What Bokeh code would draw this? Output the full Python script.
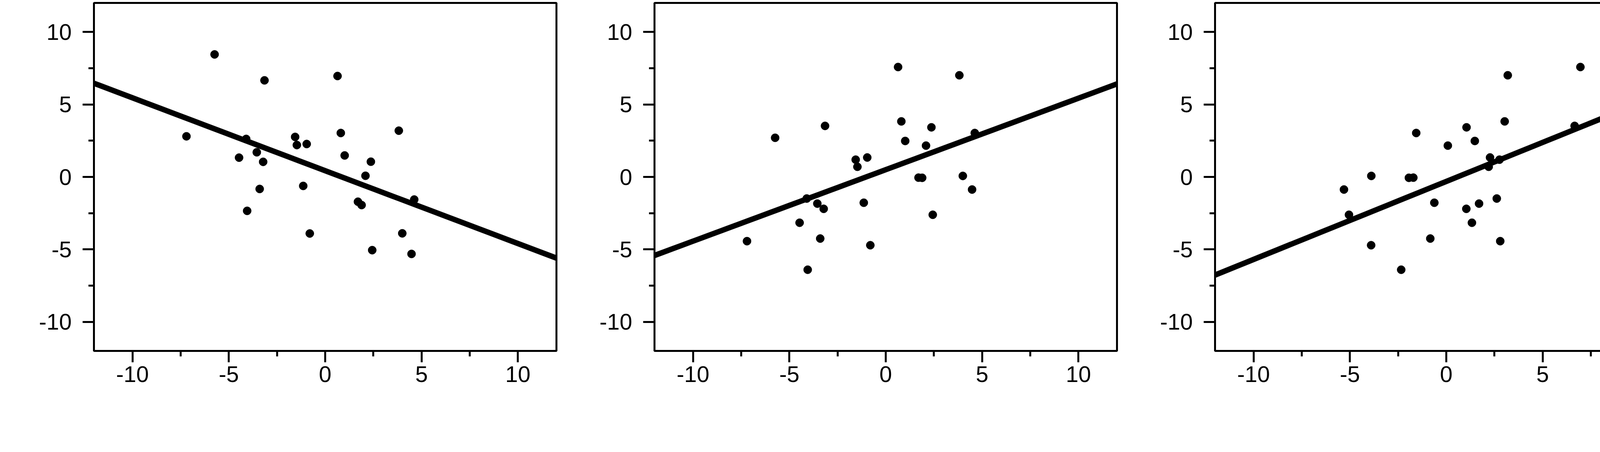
import math
from bokeh.plotting import figure
from bokeh.layouts import row
from bokeh.models import Range1d, SingleIntervalTicker, PrintfTickFormatter, Label
from bokeh.embed import file_html
from bokeh.resources import INLINE
import numpy as np

# Pace of epigenetic aging per participant (26 participants)
pace_early20s_to_late20s = [-5.74, -3.15, 0.64, -7.20, -4.10, -1.56, -1.47, -0.96, 0.81, 3.82,
                            -3.55, -4.47, -3.22, 1.01, 2.37, 2.09, -3.40, -1.14, -4.05, 1.70,
                            1.89, 4.62, -0.80, 4.00, 2.44, 4.48]
pace_adol_to_early20s = [8.45, 6.66, 6.96, 2.80, 2.62, 2.76, 2.20, 2.27, 3.03, 3.19,
                         1.70, 1.33, 1.04, 1.48, 1.05, 0.08, -0.83, -0.62, -2.34, -1.71,
                         -1.94, -1.56, -3.90, -3.89, -5.05, -5.31]
pace_adol_to_late20s = [2.70, 3.52, 7.58, -4.43, -1.49, 1.19, 0.70, 1.34, 3.83, 7.01,
                        -1.84, -3.16, -2.20, 2.48, 3.42, 2.16, -4.25, -1.78, -6.40, -0.05,
                        -0.06, 3.03, -4.71, 0.07, -2.61, -0.87]

# fitted regression lines
fit_slope = [-0.5025, 0.493, 0.538]
fit_intercept = [0.43, 0.50, -0.31]

x_titles = [["Pace of epigenetic aging", "early 20s to late 20s"],
            ["Pace of epigenetic aging", "early 20s to late 20s"],
            ["Pace of epigenetic aging", "early 20s to adolescence"]]
y_titles = [["Pace of epigenetic aging", "adolescence to early 20s"],
            ["Pace of epigenetic aging", "adolescence to late 20s"],
            ["Pace of epigenetic aging", "adolescence to late 20s"]]

axis_lo, axis_hi = -12, 12

panel_x = [pace_early20s_to_late20s, pace_early20s_to_late20s, pace_adol_to_early20s]
panel_y = [pace_adol_to_early20s, pace_adol_to_late20s, pace_adol_to_late20s]

FONT = "Liberation Sans"
FRAME_W, FRAME_H = 1184, 890
BORDER_L = 240
# title baselines, in px from the frame edge
Y_TITLE_OFFSETS = [-189, -118]   # left of frame (line 1, line 2)
X_TITLE_OFFSETS = [-160, -225]   # below frame (line 1, line 2)

figs = []
for i in range(3):
    p = figure(frame_width=FRAME_W, frame_height=FRAME_H,
               x_range=Range1d(axis_lo, axis_hi), y_range=Range1d(axis_lo, axis_hi),
               output_backend="svg", toolbar_location=None,
               min_border_left=BORDER_L, min_border_right=11,
               min_border_top=7, min_border_bottom=243)
    p.grid.visible = False
    p.background_fill_color = "white"
    p.border_fill_color = "white"
    p.outline_line_color = "black"
    p.outline_line_width = 5
    p.outline_line_alpha = 1.0

    for ax in (p.xaxis[0], p.yaxis[0]):
        ax.ticker = SingleIntervalTicker(interval=5, num_minor_ticks=2)
        ax.formatter = PrintfTickFormatter(format="%d")
        ax.axis_line_color = "black"
        ax.axis_line_width = 5
        ax.major_tick_line_color = "black"
        ax.major_tick_line_width = 5
        ax.minor_tick_line_color = "black"
        ax.minor_tick_line_width = 5
        ax.major_tick_in = 0
        ax.major_tick_out = 29
        ax.minor_tick_in = 0
        ax.minor_tick_out = 14
        ax.major_label_text_font = FONT
        ax.major_label_text_font_size = "58px"
        ax.major_label_text_color = "black"
        ax.axis_label = None

    p.xaxis.major_label_standoff = 10
    p.yaxis.major_label_standoff = 28

    # axis titles (two lines each)
    for k, txt in enumerate(y_titles[i]):
        p.add_layout(Label(x=Y_TITLE_OFFSETS[k], y=FRAME_H / 2, x_units="screen", y_units="screen",
                           text=txt, angle=math.pi / 2, text_align="center",
                           text_baseline="alphabetic", text_font=FONT,
                           text_font_size="62px", text_color="black"))
    for k, txt in enumerate(x_titles[i]):
        p.add_layout(Label(x=FRAME_W / 2, y=X_TITLE_OFFSETS[k], x_units="screen", y_units="screen",
                           text=txt, text_align="center",
                           text_baseline="alphabetic", text_font=FONT,
                           text_font_size="62px", text_color="black"))

    xs = np.array([axis_lo, axis_hi], dtype=float)
    ys = fit_intercept[i] + fit_slope[i] * xs
    p.line(xs, ys, line_color="black", line_width=14)
    p.scatter(panel_x[i], panel_y[i], size=21, marker="circle",
              fill_color="black", line_color="black")
    figs.append(p)

layout = row(*figs)
open("out.html", "w").write(file_html(layout, INLINE))
